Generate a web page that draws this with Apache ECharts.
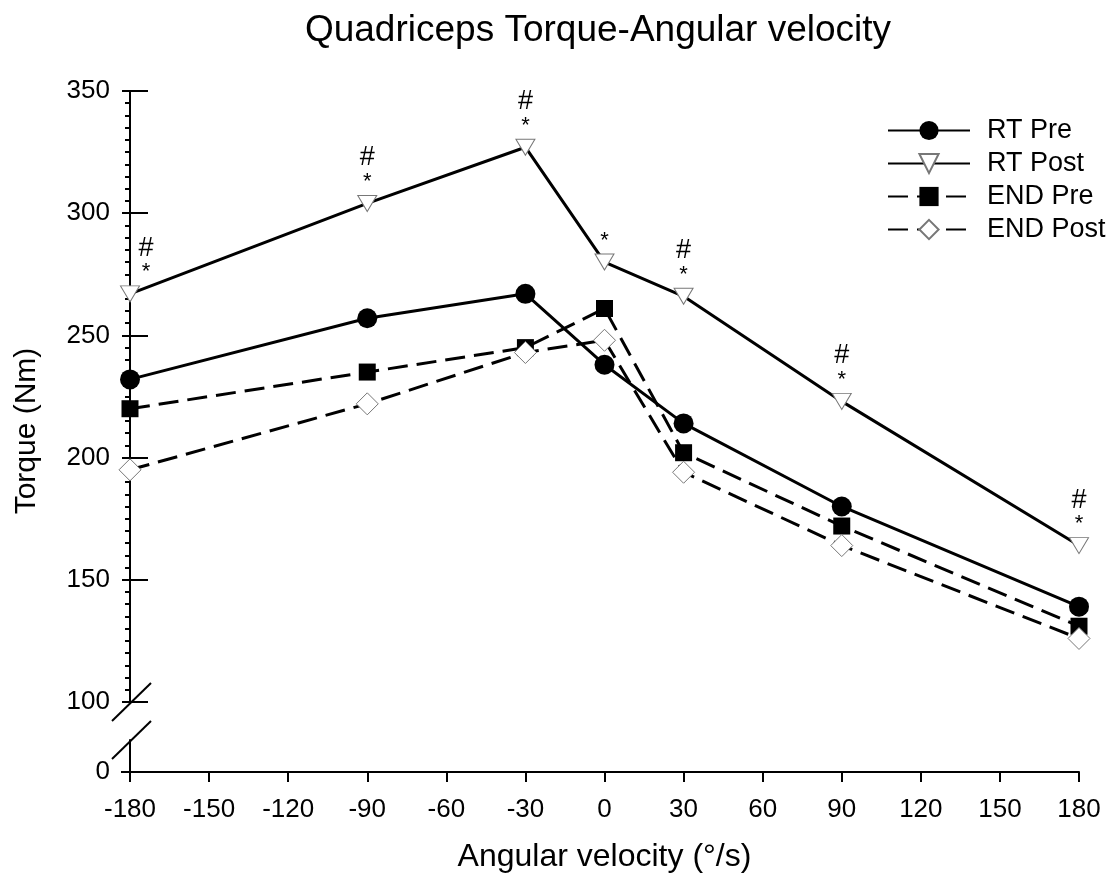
<!DOCTYPE html>
<html>
<head>
<meta charset="utf-8">
<script src="https://cdn.jsdelivr.net/npm/echarts@6/dist/echarts.min.js"></script>
<style>
html,body{margin:0;padding:0;background:#fff;}
#chart{width:1114px;height:890px;}
</style>
</head>
<body>
<div id="chart"></div>
<script>
// ---- data ----
var velocities = [-180, -90, -30, 0, 30, 90, 180];
var rtPre   = [232, 257, 267, 238, 214, 180, 139];
var rtPost  = [267, 304, 327, 280, 266, 223, 164];
var endPre  = [220, 235, 245, 261, 202, 172, 131];
var endPost = [195, 222, 243, 248, 194, 164, 126];
var rtPostMarks = ['#*', '#*', '#*', '*', '#*', '#*', '#*'];
var xTicks = [-180, -150, -120, -90, -60, -30, 0, 30, 60, 90, 120, 150, 180];
var yTicksUpper = [100, 150, 200, 250, 300, 350];
var yTicksLower = [0];

var FONT = 'Liberation Sans, Arial, sans-serif';

function pairs(vals) {
  return velocities.map(function (v, i) { return [v, vals[i]]; });
}

var postData = velocities.map(function (v, i) {
  var item = { value: [v, rtPost[i]] };
  if (i === 0) { item.label = { offset: [16, 0] }; }
  return item;
});

var solid = { color: '#000', width: 3, type: 'solid' };
var dashed = { color: '#000', width: 3, type: [20, 9] };

var chart = echarts.init(document.getElementById('chart'), null, { renderer: 'canvas' });
chart.setOption({
  backgroundColor: '#fff',
  animation: false,
  title: {
    text: 'Quadriceps Torque-Angular velocity',
    left: 593, top: 7, textAlign: 'center',
    textStyle: { fontFamily: FONT, fontSize: 37, fontWeight: 'normal', color: '#000' }
  },
  legend: {
    orient: 'vertical', left: 887, top: 117, padding: 0,
    itemWidth: 82, itemHeight: 24, itemGap: 6,
    textStyle: { fontFamily: FONT, fontSize: 27, color: '#000', padding: [0, 0, 0, 12] },
    data: ['RT Pre', 'RT Post', 'END Pre', 'END Post']
  },
  grid: [
    { left: 130, right: 35, top: 91, height: 611 },
    { left: 130, right: 35, top: 740, height: 32 }
  ],
  xAxis: [
    { gridIndex: 0, type: 'value', min: -180, max: 180, interval: 30, show: false },
    {
      gridIndex: 1, type: 'value', min: -180, max: 180, interval: 30,
      name: 'Angular velocity (°/s)', nameLocation: 'middle', nameGap: 69,
      nameTextStyle: { fontFamily: FONT, fontSize: 32, color: '#000' },
      axisLine: { show: true, onZero: false, lineStyle: { color: '#000', width: 2 } },
      axisTick: { show: true, length: 10, lineStyle: { color: '#000', width: 2 } },
      axisLabel: { fontFamily: FONT, fontSize: 26, color: '#000', margin: 25,
        customValues: xTicks },
      splitLine: { show: false }
    }
  ],
  yAxis: [
    {
      gridIndex: 0, type: 'value', min: 100, max: 350, interval: 50, position: 'left',
      axisLine: { show: true, onZero: false, lineStyle: { color: '#000', width: 2 } },
      axisTick: { show: true, length: 8, lineStyle: { color: '#000', width: 2 } },
      minorTick: { show: true, splitNumber: 10, length: 5, lineStyle: { color: '#000', width: 2 } },
      axisLabel: { fontFamily: FONT, fontSize: 26, color: '#000', margin: 20,
        customValues: yTicksUpper },
      splitLine: { show: false }, minorSplitLine: { show: false }
    },
    {
      gridIndex: 0, type: 'value', min: 100, max: 350, interval: 50, position: 'left', offset: 0,
      axisLine: { show: false, onZero: false },
      axisTick: { show: true, inside: true, length: 18, lineStyle: { color: '#000', width: 2 } },
      axisLabel: { show: false },
      splitLine: { show: false }
    },
    {
      gridIndex: 1, type: 'value', min: 0, max: 13, position: 'left',
      axisLine: { show: true, onZero: false, lineStyle: { color: '#000', width: 2 } },
      axisTick: { show: true, length: 9, lineStyle: { color: '#000', width: 2 }, customValues: yTicksLower },
      axisLabel: { fontFamily: FONT, fontSize: 26, color: '#000', margin: 20, customValues: yTicksLower },
      splitLine: { show: false }
    }
  ],
  graphic: [
    { type: 'text', x: 27, y: 431, rotation: Math.PI / 2,
      style: { text: 'Torque (Nm)', fontFamily: FONT, fontSize: 30, fill: '#000', align: 'center', verticalAlign: 'middle' } },
    { type: 'line', shape: { x1: 112, y1: 721, x2: 151, y2: 683 }, style: { stroke: '#000', lineWidth: 2 } },
    { type: 'line', shape: { x1: 112, y1: 759, x2: 151, y2: 721 }, style: { stroke: '#000', lineWidth: 2 } }
  ],
  series: [
    {
      name: 'RT Pre', type: 'line', xAxisIndex: 0, yAxisIndex: 0, clip: false,
      data: pairs(rtPre), symbol: 'circle', symbolSize: 20,
      lineStyle: solid, itemStyle: { color: '#000' }, z: 3
    },
    {
      name: 'RT Post', type: 'line', xAxisIndex: 0, yAxisIndex: 0, clip: false,
      data: postData, symbol: 'triangle', symbolRotate: 180, symbolSize: [19, 16],
      lineStyle: solid, itemStyle: { color: '#fff', borderColor: '#777', borderWidth: 1 }, z: 3,
      label: {
        show: true, position: 'top', distance: 3, align: 'center',
        formatter: function (p) {
          var m = rtPostMarks[p.dataIndex];
          var out = [];
          if (m.indexOf('#') >= 0) out.push('{h|#}');
          if (m.indexOf('*') >= 0) out.push('{s|*}');
          return out.join('\n');
        },
        rich: {
          h: { fontFamily: FONT, fontSize: 27, color: '#000', lineHeight: 28, align: 'center' },
          s: { fontFamily: FONT, fontSize: 22, color: '#000', lineHeight: 20, align: 'center' }
        }
      }
    },
    {
      name: 'END Pre', type: 'line', xAxisIndex: 0, yAxisIndex: 0, clip: false,
      data: pairs(endPre), symbol: 'rect', symbolSize: 17,
      lineStyle: dashed, itemStyle: { color: '#000' }, z: 3
    },
    {
      name: 'END Post', type: 'line', xAxisIndex: 0, yAxisIndex: 0, clip: false,
      data: pairs(endPost), symbol: 'diamond', symbolSize: 22,
      lineStyle: dashed, itemStyle: { color: '#fff', borderColor: '#777', borderWidth: 1 }, z: 3
    }
  ]
});
</script>
</body>
</html>
